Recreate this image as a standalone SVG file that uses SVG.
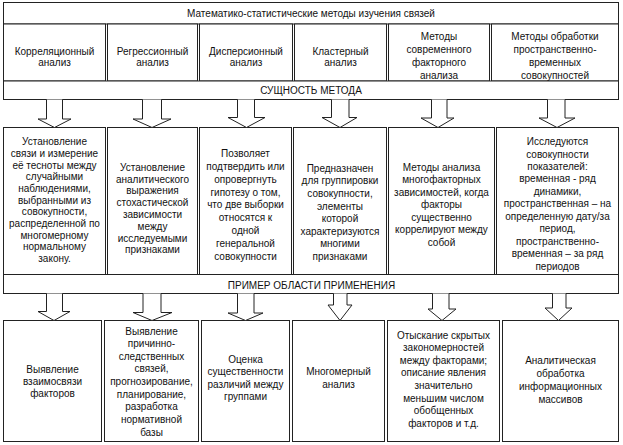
<svg xmlns="http://www.w3.org/2000/svg" width="623" height="445" viewBox="0 0 623 445">
<defs>
<style>
.b{fill:#fff;stroke:#222;stroke-width:1}
.a{fill:#fff;stroke:#222;stroke-width:1;stroke-linejoin:miter}
text{font-family:"Liberation Sans",Arial,sans-serif;font-size:10px;fill:#111;text-anchor:middle}
</style>
</defs>
<rect x="0" y="0" width="623" height="445" fill="#fff"/>
<g id="title"><rect class="b" x="3.5" y="2.5" width="615" height="21.5"/><text x="311" y="17">Математико-статистические методы изучения связей</text></g>
<g id="h1"><rect class="b" x="3.5" y="24" width="102" height="57"/><text y="55.2"><tspan x="54.5">Корреляционный</tspan><tspan x="54.5" dy="11">анализ</tspan></text></g>
<g id="h2"><rect class="b" x="107.5" y="24" width="90" height="57"/><text y="55.2"><tspan x="152.5">Регрессионный</tspan><tspan x="152.5" dy="11">анализ</tspan></text></g>
<g id="h3"><rect class="b" x="199.5" y="24" width="93" height="57"/><text y="55.2"><tspan x="246">Дисперсионный</tspan><tspan x="246" dy="11">анализ</tspan></text></g>
<g id="h4"><rect class="b" x="294.5" y="24" width="92" height="57"/><text y="55.2"><tspan x="340.5">Кластерный</tspan><tspan x="340.5" dy="11">анализ</tspan></text></g>
<g id="h5"><rect class="b" x="388.5" y="24" width="101" height="57"/><text y="40.2"><tspan x="439">Методы</tspan><tspan x="439" dy="12.8">современного</tspan><tspan x="439" dy="12.8">факторного</tspan><tspan x="439" dy="12.8">анализа</tspan></text></g>
<g id="h6"><rect class="b" x="491.5" y="24" width="127" height="57"/><text y="40.2"><tspan x="555">Методы обработки</tspan><tspan x="555" dy="12.8">пространственно-</tspan><tspan x="555" dy="12.8">временных</tspan><tspan x="555" dy="12.8">совокупностей</tspan></text></g>
<g id="essence"><rect class="b" x="3.5" y="81" width="615" height="18.5"/><text x="311" y="93.6">СУЩНОСТЬ МЕТОДА</text></g>
<g id="m1"><rect class="b" x="3.5" y="127.5" width="102" height="147"/><text y="145.3"><tspan x="54.5">Установление</tspan><tspan x="54.5" dy="11.65">связи и измерение</tspan><tspan x="54.5" dy="11.65">её тесноты между</tspan><tspan x="54.5" dy="11.65">случайными</tspan><tspan x="54.5" dy="11.65">наблюдениями,</tspan><tspan x="54.5" dy="11.65">выбранными из</tspan><tspan x="54.5" dy="11.65">совокупности,</tspan><tspan x="54.5" dy="11.65">распределенной по</tspan><tspan x="54.5" dy="11.65">многомерному</tspan><tspan x="54.5" dy="11.65">нормальному</tspan><tspan x="54.5" dy="11.65">закону.</tspan></text></g>
<g id="m2"><rect class="b" x="107.5" y="127.5" width="90" height="147"/><text y="170.8"><tspan x="152.5">Установление</tspan><tspan x="152.5" dy="11.8">аналитического</tspan><tspan x="152.5" dy="11.8">выражения</tspan><tspan x="152.5" dy="11.8">стохастической</tspan><tspan x="152.5" dy="11.8">зависимости</tspan><tspan x="152.5" dy="11.8">между</tspan><tspan x="152.5" dy="11.8">исследуемыми</tspan><tspan x="152.5" dy="11.8">признаками</tspan></text></g>
<g id="m3"><rect class="b" x="199.5" y="127.5" width="92" height="147"/><text y="156.8"><tspan x="245.5">Позволяет</tspan><tspan x="245.5" dy="12.9">подтвердить или</tspan><tspan x="245.5" dy="12.9">опровергнуть</tspan><tspan x="245.5" dy="12.9">гипотезу о том,</tspan><tspan x="245.5" dy="12.9">что две выборки</tspan><tspan x="245.5" dy="12.9">относятся к</tspan><tspan x="245.5" dy="12.9">одной</tspan><tspan x="245.5" dy="12.9">генеральной</tspan><tspan x="245.5" dy="12.9">совокупности</tspan></text></g>
<g id="m4"><rect class="b" x="293.5" y="127.5" width="93" height="147"/><text y="171.8"><tspan x="340">Предназначен</tspan><tspan x="340" dy="12.6">для группировки</tspan><tspan x="340" dy="12.6">совокупности,</tspan><tspan x="340" dy="12.6">элементы</tspan><tspan x="340" dy="12.6">которой</tspan><tspan x="340" dy="12.6">характеризуются</tspan><tspan x="340" dy="12.6">многими</tspan><tspan x="340" dy="12.6">признаками</tspan></text></g>
<g id="m5"><rect class="b" x="388.5" y="127.5" width="106" height="147"/><text y="170.8"><tspan x="441.5">Методы анализа</tspan><tspan x="441.5" dy="12.5">многофакторных</tspan><tspan x="441.5" dy="12.5">зависимостей, когда</tspan><tspan x="441.5" dy="12.5">факторы</tspan><tspan x="441.5" dy="12.5">существенно</tspan><tspan x="441.5" dy="12.5">коррелируют между</tspan><tspan x="441.5" dy="12.5">собой</tspan></text></g>
<g id="m6"><rect class="b" x="496.5" y="127.5" width="122" height="147"/><text y="145.2"><tspan x="557.5">Исследуются</tspan><tspan x="557.5" dy="12.43">совокупности</tspan><tspan x="557.5" dy="12.43">показателей:</tspan><tspan x="557.5" dy="12.43">временная - ряд</tspan><tspan x="557.5" dy="12.43">динамики,</tspan><tspan x="557.5" dy="12.43">пространственная – на</tspan><tspan x="557.5" dy="12.43">определенную дату/за</tspan><tspan x="557.5" dy="12.43">период,</tspan><tspan x="557.5" dy="12.43">пространственно-</tspan><tspan x="557.5" dy="12.43">временная – за ряд</tspan><tspan x="557.5" dy="12.43">периодов</tspan></text></g>
<g id="example"><rect class="b" x="3.5" y="274.5" width="615" height="19"/><text x="311.5" y="288.5">ПРИМЕР ОБЛАСТИ ПРИМЕНЕНИЯ</text></g>
<g id="b1"><rect class="b" x="3.5" y="320.5" width="98" height="121"/><text y="372.5"><tspan x="52.5">Выявление</tspan><tspan x="52.5" dy="12.2">взаимосвязи</tspan><tspan x="52.5" dy="12.2">факторов</tspan></text></g>
<g id="b2"><rect class="b" x="104.5" y="320.5" width="94" height="121"/><text y="334.5"><tspan x="151.5">Выявление</tspan><tspan x="151.5" dy="12.65">причинно-</tspan><tspan x="151.5" dy="12.65">следственных</tspan><tspan x="151.5" dy="12.65">связей,</tspan><tspan x="151.5" dy="12.65">прогнозирование,</tspan><tspan x="151.5" dy="12.65">планирование,</tspan><tspan x="151.5" dy="12.65">разработка</tspan><tspan x="151.5" dy="12.65">нормативной</tspan><tspan x="151.5" dy="12.65">базы</tspan></text></g>
<g id="b3"><rect class="b" x="201.5" y="320.5" width="88" height="121"/><text y="362.8"><tspan x="245.5">Оценка</tspan><tspan x="245.5" dy="12.45">существенности</tspan><tspan x="245.5" dy="12.45">различий между</tspan><tspan x="245.5" dy="12.45">группами</tspan></text></g>
<g id="b4"><rect class="b" x="292.5" y="320.5" width="92" height="121"/><text y="375.2"><tspan x="338.5">Многомерный</tspan><tspan x="338.5" dy="12.6">анализ</tspan></text></g>
<g id="b5"><rect class="b" x="387.5" y="320.5" width="112" height="121"/><text y="338.5"><tspan x="443.5">Отыскание скрытых</tspan><tspan x="443.5" dy="12.6">закономерностей</tspan><tspan x="443.5" dy="12.6">между факторами;</tspan><tspan x="443.5" dy="12.6">описание явления</tspan><tspan x="443.5" dy="12.6">значительно</tspan><tspan x="443.5" dy="12.6">меньшим числом</tspan><tspan x="443.5" dy="12.6">обобщенных</tspan><tspan x="443.5" dy="12.6">факторов и т.д.</tspan></text></g>
<g id="b6"><rect class="b" x="502.5" y="320.5" width="116" height="121"/><text y="363.5"><tspan x="560.5">Аналитическая</tspan><tspan x="560.5" dy="13.1">обработка</tspan><tspan x="560.5" dy="13.1">информационных</tspan><tspan x="560.5" dy="13.1">массивов</tspan></text></g>
<g id="connectors">
<polyline class="a" points="46.5,99.5 46.5,119 38,119 54.5,127.5 71,119 62.5,119 62.5,99.5"/>
<polyline class="a" points="142.5,99.5 142.5,119 133,119 152,127.5 171,119 161.5,119 161.5,99.5"/>
<polyline class="a" points="237.5,99.5 237.5,117.5 228,117.5 246.5,127.5 265,117.5 254.5,117.5 254.5,99.5"/>
<polyline class="a" points="331.5,99.5 331.5,117.5 322,117.5 340,127.5 357,117.5 349,117.5 349,99.5"/>
<polyline class="a" points="431.5,99.5 431.5,118 421,118 438,127.5 454,118 447,118 447,99.5"/>
<polyline class="a" points="547.5,99.5 547.5,118 539,118 557,127.5 575,118 565,118 565,99.5"/>
<polyline class="a" points="46.5,293.5 46.5,311.5 38,311.5 54,320.5 70,311.5 62.5,311.5 62.5,293.5"/>
<polyline class="a" points="143,293.5 143,312.5 133,312.5 152,320.5 172,312.5 161,312.5 161,293.5"/>
<polyline class="a" points="237.5,293.5 237.5,313 228,313 245.5,320.5 263,313 254,313 254,293.5"/>
<polyline class="a" points="333.5,293.5 333.5,305 328,305 340,320.5 352,305 347,305 347,293.5"/>
<polyline class="a" points="432.5,293.5 432.5,309 428,309 442,320.5 456,309 449,309 449,293.5"/>
<polyline class="a" points="552.5,293.5 552.5,308 545,308 558.5,320.5 572,308 566,308 566,293.5"/>
</g>
</svg>
